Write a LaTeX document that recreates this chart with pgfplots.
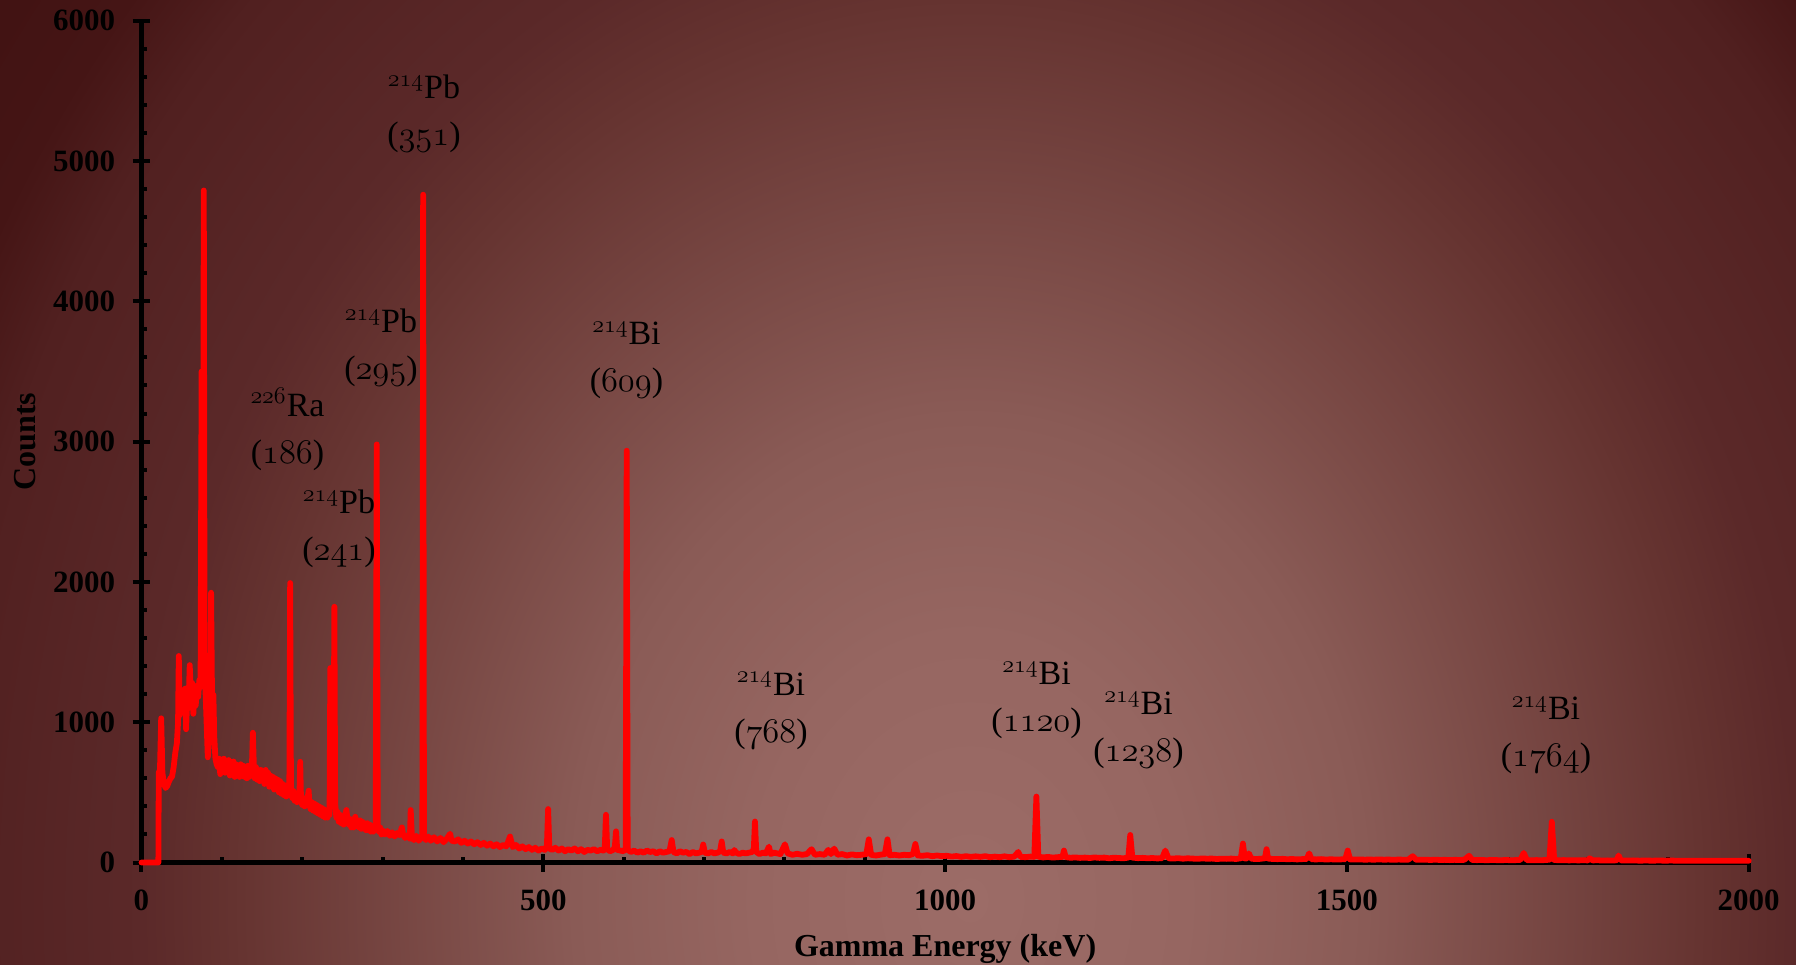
\documentclass[border=0pt]{standalone}
\usepackage{fontspec}
\newfontfamily\tnr{Liberation Serif}
\usepackage{pgfplots}
\pgfplotsset{compat=1.18}
\newcommand\osn[1]{{\fontencoding{OML}\fontfamily{lmm}\fontseries{b}\fontshape{it}\selectfont #1}}
\newcommand\lab[2]{\textsuperscript{\osn{#1}}#2}
\definecolor{c0}{HTML}{9C6C67}
\definecolor{c1}{HTML}{966661}
\definecolor{c2}{HTML}{8A5B56}
\definecolor{c3}{HTML}{653330}
\definecolor{c4}{HTML}{5B2929}
\definecolor{c5}{HTML}{512020}
\definecolor{c6}{HTML}{451515}
\definecolor{c7}{HTML}{3A0E0E}
\pgfdeclareradialshading{bgshade}{\pgfpoint{0bp}{0bp}}{color(0bp)=(c0); color(3bp)=(c1); color(5.5bp)=(c2); color(10.25bp)=(c3); color(11.5bp)=(c4); color(14.25bp)=(c5); color(15.5bp)=(c6); color(20bp)=(c7); color(50bp)=(c7)}
\begin{document}
\begin{tikzpicture}
\useasboundingbox (0,0) rectangle (898pt,482.5pt);
\begin{scope}
\clip (0,0) rectangle (898pt,482.5pt);
\shade[shading=bgshade] (-415pt,-1067.5pt) rectangle (1385pt,1132.5pt);
\end{scope}
\begin{axis}[
  at={(70.75pt,51.25pt)}, anchor=south west,
  scale only axis, width=803.6pt, height=420.9pt,
  xmin=0, xmax=2000, ymin=0, ymax=6000,
  axis lines=left,
  axis line style={-, line width=2.35pt, black},
  xtick={0,500,...,2000}, ytick={0,1000,...,6000},
  minor x tick num=4, minor y tick num=4,
  tick align=center, major tick length=9pt, minor tick length=3pt,
  every tick/.style={black, line width=2pt},
  every minor x tick/.append style={yshift=1.5pt},
  every minor y tick/.append style={xshift=1.5pt},
  /pgf/number format/1000 sep={},
  /pgf/number format/assume math mode=true,
  tick label style={font=\tnr\bfseries\fontsize{15.5}{18}\selectfont, black},
  xticklabel style={yshift=-5.7pt},
  yticklabel style={xshift=-5.2pt},
  xlabel={Gamma Energy (keV)}, ylabel={Counts},
  label style={font=\tnr\bfseries\fontsize{16}{19}\selectfont, black},
  xlabel style={at={(axis description cs:0.5,-0.1028)}, anchor=center},
  ylabel style={at={(axis description cs:-0.0725,0.5)}, anchor=center},
  clip=false,
]
\addplot[color=red, line width=2.9pt, line join=round, line cap=round] table {
0 0
10 0
20 0
21 0
21.5 640
23 660
24.5 1028
26 640
28 560
30 531
32 545
34 575
36 600
38 612
40 680
42 780
44 850
45.5 1000
46.4 1472
47.5 1050
49 1229
50.5 1150
52 1230
53.5 1100
54.5 1240
55.5 950
57 1180
58.5 1100
60 1407
61.5 1200
63 1280
64.5 1060
66 1220
67.5 1120
69 1260
70.5 1180
72 1300
73.5 1250
74.8 3500
75.8 1400
76.6 1800
77.5 4790
78.5 1500
79.5 1250
81 1000
82.5 750
84 880
85.5 950
86.6 1923
87.8 1150
89.5 1194
90.5 900
92 740
93.5 700
95 680
96.5 740
98 630
99.5 720
101 650
102.5 740
104 640
105.5 710
107 650
108.5 730
110 620
111.5 700
113 660
114.5 720
116 610
117.5 700
119 640
120.5 690
122 610
123.5 700
125 620
126.5 690
128 610
129.5 680
131 600
132.5 690
134 610
135.5 670
137.5 700
138.6 925
139.8 690
141 600
142.5 680
144 590
145.5 660
147 580
148.5 660
150 590
151.5 650
153 560
154.5 660
156 570
157.5 640
159 540
160.5 620
162 540
163.5 610
165 520
166.5 600
168 520
169.5 590
171 500
172.5 580
174 490
175.5 560
177 480
178.5 550
180 470
181.5 540
183 480
184 560
185 1992
186 520
187.5 460
189 510
190.5 440
192 490
193.5 430
195 480
196.5 470
197.5 718
198.5 450
200 410
201.5 460
203 400
204.5 450
206 420
207 470
208 512
209 410
210.5 380
212 430
213.5 370
215 420
216.5 360
218 410
219.5 350
221 400
222.5 340
224 390
225.5 330
227 380
228.5 320
230 370
231.5 320
233 360
234 340
235 1386
236.3 900
237.5 600
239 500
240 1823
241 420
242.5 320
244 360
245.5 290
247 340
248.5 280
250 330
251.5 270
253.5 340
255 374
256.5 300
258 270
259.5 310
261 250
262.5 300
264 250
266 326
267.5 270
269 300
270.5 250
272 300
273.5 240
275 290
276.5 240
278 280
279.5 230
281 280
282.5 230
284 270
285.5 220
287 260
288.5 220
290 250
291.5 260
292.7 2980
294 250
295.5 220
297 250
298.5 200
300 230
303 200
306 225
309 190
312 215
315 185
318 210
321 195
324 250
325.5 200
328 175
331 195
334 170
335 374
336.5 180
339 160
342 190
345 155
348 180
349.5 190
350.5 4760
351.5 180
354 160
357 185
360 155
364 180
368 150
372 175
376 145
380 170
384 205
386 155
390 150
394 165
398 140
402 155
406 135
410 150
414 130
418 145
422 125
426 140
430 120
434 135
438 115
442 130
446 110
450 125
454 115
458.6 185
462 110
466 125
470 100
474 115
478 95
482 110
486 90
490 105
494 85
498 100
502 90
504.5 120
506 381
507.5 100
511 90
515 105
519 85
523 100
527 80
531 95
535 85
539 100
543 80
547 95
551 75
555 90
559 85
563 95
567 80
571 90
575 85
576.5 110
578 340
579.5 95
583 80
587 90
589 110
590.5 222
592 90
596 85
600 80
602.5 100
603.8 2935
605 90
609 75
613 85
617 70
621 80
625 70
629 85
633 75
637 80
641 65
645 80
649 70
653 75
657 80
659.8 160
662 75
666 65
670 80
674 70
678 75
682 60
686 75
690 65
694 70
697 75
699 128
701 70
705 65
709 75
713 65
717 70
720 80
722 150
724 70
728 65
732 75
736 65
737.7 89
740 70
744 60
748 70
752 65
756 70
760 75
762 100
763.4 292
765 75
769 60
773 70
777 65
780.8 113
783 60
787 70
791 65
795 60
800.7 130
804 65
810 55
816 62
822 55
828 60
833.8 95
838 55
844 60
850 55
854.6 90
858 60
862 99
866 55
872 60
878 50
884 58
890 52
896 55
902 60
905 165
908 55
914 50
920 56
925 60
928.3 165
931 52
937 55
943 50
949 55
955 52
960 60
963 132
966 50
972 48
978 52
984 45
990 50
996 45
1002 48
1008 42
1014 46
1020 40
1026 45
1032 40
1038 44
1044 40
1050 45
1056 38
1062 42
1068 38
1074 44
1080 38
1086 42
1091 75
1094 40
1100 38
1106 42
1111 40
1113.6 470
1116 42
1122 36
1128 40
1134 35
1140 38
1146 40
1147.9 85
1150 38
1156 34
1162 36
1168 33
1174 35
1180 32
1186 36
1192 33
1198 35
1204 30
1210 34
1216 32
1222 30
1228 35
1230.4 196
1233 35
1240 31
1246 33
1252 30
1258 32
1264 29
1270 31
1274 85
1278 30
1284 28
1290 31
1296 27
1302 30
1308 28
1314 26
1320 29
1326 27
1332 28
1338 25
1344 27
1350 26
1356 28
1362 25
1368 30
1370.6 135
1373 28
1376 30
1378 65
1381 27
1386 25
1392 26
1398 30
1400 95
1402 28
1408 25
1414 24
1420 26
1426 23
1432 25
1438 22
1444 24
1450 26
1453 65
1456 23
1462 22
1468 24
1474 21
1480 23
1486 21
1492 22
1498 24
1501 85
1504 22
1510 21
1516 22
1522 20
1528 21
1534 20
1540 22
1546 20
1552 21
1558 19
1564 21
1570 20
1576 19
1582 45
1586 20
1592 19
1598 20
1604 18
1610 20
1616 18
1622 19
1628 17
1634 19
1640 18
1646 19
1652 48
1656 18
1662 17
1668 18
1674 16
1680 18
1686 17
1692 16
1698 18
1704 16
1710 17
1716 19
1720 68
1724 17
1730 16
1736 17
1742 16
1748 18
1752 20
1755 290
1758 18
1764 16
1770 17
1776 15
1782 16
1788 15
1794 16
1800 15
1802 30
1806 15
1812 16
1818 14
1824 15
1830 14
1836 16
1838 50
1841 15
1848 14
1856 15
1864 13
1872 14
1880 13
1888 14
1896 13
1904 14
1912 12
1920 13
1928 12
1936 13
1944 12
1952 13
1960 12
1968 12
1976 13
1984 12
1992 12
2000 12
};
\begin{scope}[every node/.style={align=center, anchor=center, black, font=\tnr\fontsize{17}{23.5}\selectfont}]
\node at (axis cs:351.5,5333) {\lab{214}{Pb}\\(\osn{351})};
\node at (axis cs:298,3665) {\lab{214}{Pb}\\(\osn{295})};
\node at (axis cs:181.7,3088) {\lab{226}{Ra}\\(\osn{186})};
\node at (axis cs:245.8,2378) {\lab{214}{Pb}\\(\osn{241})};
\node at (axis cs:603.5,3579) {\lab{214}{Bi}\\(\osn{609})};
\node at (axis cs:783.3,1081) {\lab{214}{Bi}\\(\osn{768})};
\node at (axis cs:1113.9,1156) {\lab{214}{Bi}\\(\osn{1120})};
\node at (axis cs:1240.7,942) {\lab{214}{Bi}\\(\osn{1238})};
\node at (axis cs:1747.7,907) {\lab{214}{Bi}\\(\osn{1764})};
\end{scope}
\end{axis}
\end{tikzpicture}
\end{document}
